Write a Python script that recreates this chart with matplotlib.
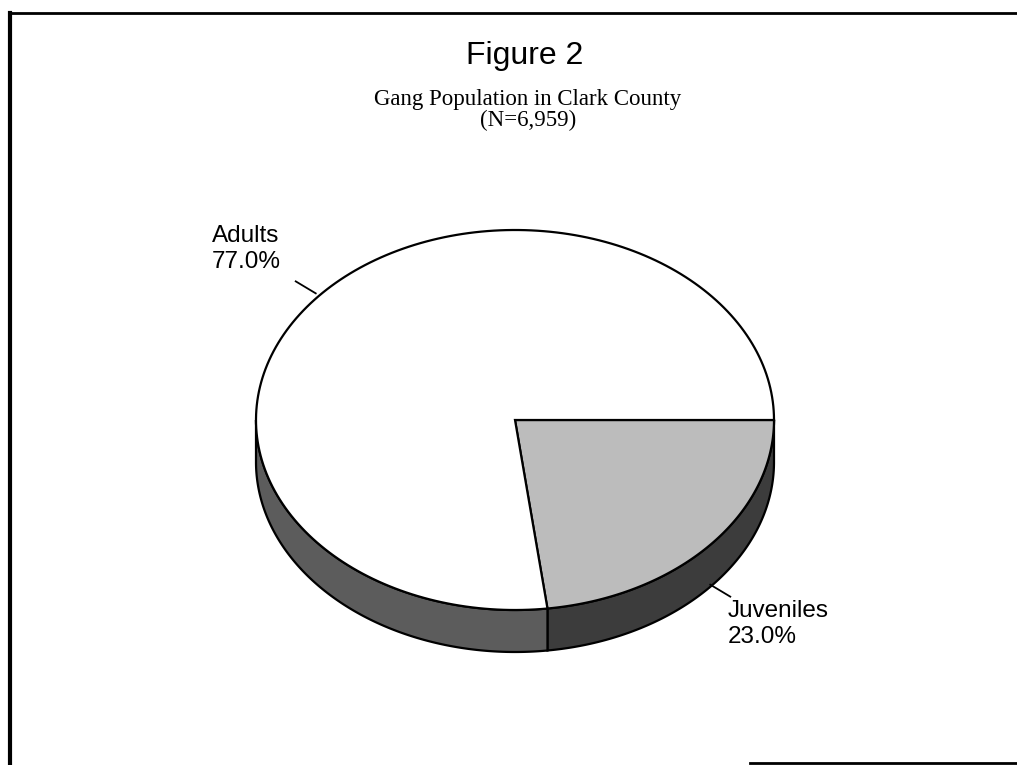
import numpy as np
import matplotlib.pyplot as plt
from matplotlib.patches import Polygon

# data
labels = ["Juveniles", "Adults"]
shares = [23.0, 77.0]
top_colors = ["#bcbcbc", "#ffffff"]
side_colors = ["#3c3c3c", "#5c5c5c"]

title = "Figure 2"
subtitle = "Gang Population in Clark County\n(N=6,959)"

# pie geometry (pixel-like coords, y down)
cx, cy = 515, 420
rx, ry = 259, 190
depth = 42

def arc(t1, t2, n=200, dy=0):
    t = np.radians(np.linspace(t1, t2, n))
    return np.column_stack([cx + rx * np.cos(t), cy + dy + ry * np.sin(t)])

fig = plt.figure(figsize=(10.17, 7.65), dpi=100)
ax = fig.add_axes([0, 0, 1, 1])
ax.set_xlim(0, 1017)
ax.set_ylim(765, 0)
ax.axis("off")

# frame lines from the scan
ax.plot([10, 1017], [13, 13], color="black", lw=2)
ax.plot([10, 10], [13, 765], color="black", lw=3)
ax.plot([750, 1017], [763, 763], color="black", lw=2)

angles = np.cumsum([0] + shares) / 100 * 360

# side walls (only front half visible: 0..180 deg)
for i in range(len(shares)):
    a1, a2 = angles[i], min(angles[i + 1], 180)
    if a1 >= 180:
        continue
    top = arc(a1, a2)
    bot = arc(a2, a1, dy=depth)
    ax.add_patch(Polygon(np.vstack([top, bot]), closed=True,
                         facecolor=side_colors[i], edgecolor="black", lw=1.6, zorder=2))

# top faces
for i in range(len(shares)):
    pts = np.vstack([[cx, cy], arc(angles[i], angles[i + 1])])
    ax.add_patch(Polygon(pts, closed=True, facecolor=top_colors[i],
                         edgecolor="black", lw=1.6, zorder=3))

# labels with leader lines
mid_adult = np.radians((angles[1] + angles[2]) / 2)
ax_x, ax_y = cx + rx * np.cos(mid_adult), cy + ry * np.sin(mid_adult)
ax.plot([ax_x - 5, ax_x - 25], [ax_y - 1, ax_y - 13], color="black", lw=1.3, zorder=4)
ax.text(212, 225, f"{labels[1]}\n{shares[1]:.1f}%", fontsize=17.5,
        family="Liberation Sans", va="top", ha="left", linespacing=1.25)

mid_juv = np.radians((angles[0] + angles[1]) / 2)
jx, jy = cx + rx * np.cos(mid_juv), cy + ry * np.sin(mid_juv) + depth
ax.plot([jx + 1, jx + 21], [jy - 3, jy + 9], color="black", lw=1.3, zorder=4)
ax.text(728, 600, f"{labels[0]}\n{shares[0]:.1f}%", fontsize=17.5,
        family="Liberation Sans", va="top", ha="left", linespacing=1.25)

ax.text(525, 56, title, fontsize=23, family="Liberation Sans",
        ha="center", va="center")
ax.text(528, 110, subtitle, fontsize=16.5, family="Liberation Serif",
        ha="center", va="center", linespacing=1.0)

fig.savefig("out.png", dpi=100)
